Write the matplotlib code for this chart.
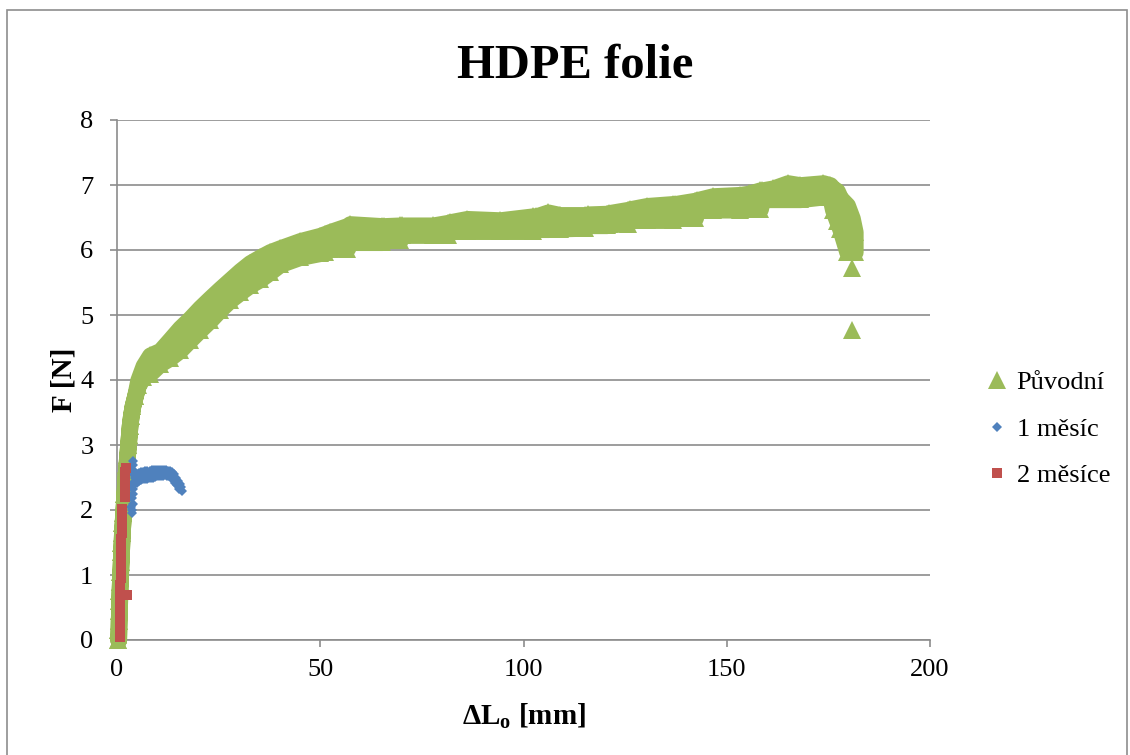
import matplotlib
matplotlib.use("Agg")
import matplotlib.pyplot as plt
from matplotlib.patches import Rectangle
from matplotlib.lines import Line2D

plt.rcParams['font.family'] = ['Liberation Serif', 'DejaVu Serif']
plt.rcParams['mathtext.fontset'] = 'custom'
plt.rcParams['mathtext.rm'] = 'Liberation Serif'
plt.rcParams['mathtext.bf'] = 'Liberation Serif:bold'

GREEN = '#9BBB59'
BLUE = '#4F81BD'
RED = '#C0504D'
GRID = '#8C8C8C'

title = 'HDPE folie'
series_names = ['Původní', '1 měsíc', '2 měsíce']
x_ticks = [0, 50, 100, 150, 200]
y_ticks = [0, 1, 2, 3, 4, 5, 6, 7, 8]

# Původní: elongation [mm] with lower / upper force envelope [N]
orig_x = [0.3, 0.35, 0.4, 0.5, 0.55, 0.6, 0.7, 0.8, 0.9, 1.0, 1.1, 1.2, 1.35,
          1.5, 1.65, 1.8, 1.95, 2.1, 2.3, 2.5, 2.7, 2.9, 3.1, 3.4, 3.8, 4.4,
          5.2, 6.5, 8.1, 10.6, 13.0, 15.5, 18.0, 20.4, 22.9, 25.3, 27.8, 30.3,
          32.7, 35.2, 37.6, 40.1, 45.0, 49.9, 51.2, 52.4, 56.6, 57.3, 65.2,
          65.7, 69.6, 70.1, 77.7, 81.4, 81.9, 86.1, 94.2, 102.3, 103.1, 106.0,
          109.0, 115.1, 115.9, 120.5, 121.0, 125.7, 126.2, 130.4, 136.8, 137.3,
          142.2, 142.7, 146.6, 153.3, 155.5, 158.2, 158.7, 161.4, 165.0, 168.0,
          173.7, 175.4, 176.1, 177.1, 177.9, 179.6, 180.8, 181.5]
orig_lo = [0.0, 0.15, 0.3, 0.45, 0.6, 0.75, 0.9, 1.05, 1.2, 1.35, 1.5, 1.65, 1.8,
           1.95, 2.1, 2.25, 2.4, 2.55, 2.7, 2.85, 3.0, 3.15, 3.3, 3.45, 3.6, 3.75,
           3.92, 4.05, 4.10, 4.25, 4.34, 4.46, 4.62, 4.77, 4.92, 5.08, 5.23, 5.35,
           5.46, 5.55, 5.66, 5.78, 5.89, 5.95, 5.97, 6.02, 6.02, 6.12, 6.12,
           6.15, 6.15, 6.23, 6.23, 6.23, 6.29, 6.29, 6.29, 6.29, 6.32, 6.32,
           6.33, 6.34, 6.38, 6.38, 6.40, 6.40, 6.46, 6.46, 6.46, 6.49,
           6.49, 6.62, 6.62, 6.62, 6.63, 6.63, 6.78, 6.78, 6.78, 6.78,
           6.82, 6.82, 6.62, 6.45, 6.32, 5.97, 5.97, 5.97]
orig_hi = [0.0, 0.15, 0.3, 0.45, 0.6, 0.75, 0.9, 1.05, 1.2, 1.35, 1.5, 1.65, 1.8,
           1.95, 2.1, 2.25, 2.4, 2.55, 2.7, 2.85, 3.0, 3.15, 3.3, 3.45, 3.6, 3.75,
           4.0, 4.22, 4.38, 4.45, 4.62, 4.80, 4.95, 5.11, 5.26, 5.40, 5.54, 5.68,
           5.80, 5.89, 5.97, 6.03, 6.14, 6.22, 6.25, 6.28, 6.37, 6.40, 6.37,
           6.37, 6.38, 6.38, 6.38, 6.42, 6.43, 6.48, 6.46, 6.52, 6.52, 6.58,
           6.54, 6.54, 6.55, 6.56, 6.57, 6.62, 6.63, 6.68, 6.71, 6.71,
           6.76, 6.77, 6.83, 6.85, 6.87, 6.92, 6.92, 6.95, 7.03, 7.00,
           7.03, 7.00, 6.95, 6.91, 6.80, 6.69, 6.49, 6.28]
orig_tail_x = [180.8, 180.8]
orig_tail_y = [5.72, 4.77]

# 1 měsíc
m1_x = [3.4, 3.6, 3.8, 3.9, 3.9, 3.8, 3.9, 4.0, 3.9, 4.0, 3.9, 3.7,
        4.5, 5.0, 5.5, 6.0, 6.5, 7.0, 7.5, 8.0, 8.5, 9.0, 9.5, 10.0, 10.5,
        11.0, 11.5, 12.0, 12.5, 13.0, 13.5, 14.0, 14.5, 15.0, 15.4, 15.7, 16.0,
        4.3, 4.8, 5.3, 5.8, 6.3, 6.8, 7.3, 7.8, 8.3, 8.8, 9.3, 9.8, 10.3,
        10.8, 11.3, 11.8, 12.3, 12.8, 13.3, 13.8, 14.3, 14.8, 15.2]
m1_y = [2.05, 2.0, 1.95, 2.1, 2.25, 2.4, 2.55, 2.7, 2.75, 2.62, 2.33, 2.18,
        2.5, 2.55, 2.57, 2.58, 2.58, 2.6, 2.6, 2.6, 2.61, 2.62, 2.62, 2.62, 2.62,
        2.62, 2.62, 2.62, 2.6, 2.6, 2.58, 2.55, 2.5, 2.45, 2.4, 2.35, 2.3,
        2.4, 2.42, 2.44, 2.46, 2.47, 2.48, 2.48, 2.5, 2.5, 2.5, 2.51, 2.52, 2.52,
        2.53, 2.53, 2.54, 2.53, 2.52, 2.5, 2.47, 2.42, 2.38, 2.33]

# 2 měsíce
m2_x = [0.7, 0.71, 0.72, 0.74, 0.76, 0.78, 0.8, 0.83, 0.86, 0.89, 0.92, 0.95,
        0.98, 1.01, 1.04, 1.08, 1.12, 1.16, 1.2, 1.25, 1.3,
        1.85, 1.9, 1.95, 2.0, 2.05, 2.1, 2.4]
m2_y = [0.05, 0.15, 0.25, 0.35, 0.45, 0.55, 0.65, 0.75, 0.85, 0.95, 1.05, 1.15,
        1.25, 1.35, 1.45, 1.55, 1.65, 1.75, 1.85, 1.95, 2.02,
        2.2, 2.3, 2.4, 2.5, 2.58, 2.65, 0.69]

W, H = 1130, 755
fig = plt.figure(figsize=(W / 100, H / 100), dpi=100)
ax = fig.add_axes([117 / W, 1 - 640 / H, (930 - 117) / W, (640 - 120) / H])

# chart frame
fig.patches.append(Rectangle((7 / W, -0.01), (1127 - 7) / W, 1.01 - 10 / H,
                             transform=fig.transFigure, fill=False,
                             edgecolor='#8E8E8E', linewidth=1.2))

ax.set_xlim(0, 200)
ax.set_ylim(0, 8)
ax.set_xticks(x_ticks)
ax.set_yticks(y_ticks)
ax.yaxis.grid(True, color=GRID, linewidth=1.2)
ax.set_axisbelow(True)
for s in ['top', 'right']:
    ax.spines[s].set_visible(False)
for s in ['left', 'bottom']:
    ax.spines[s].set_color(GRID)
    ax.spines[s].set_linewidth(1.2)
    ax.spines[s].set_zorder(1)
ax.tick_params(axis='both', direction='out', length=5, width=1.2, color=GRID,
               labelsize=19)
ax.tick_params(axis='y', pad=12)
ax.tick_params(axis='x', pad=9)

# dense marker cloud of the original film: band between the envelopes,
# widened by the marker size
tri_ms = 13
ax.fill_between(orig_x, orig_lo, orig_hi, facecolor=GREEN,
                edgecolor=GREEN, linewidth=12, joinstyle='round',
                zorder=3, clip_on=False)
ax.plot(orig_x, orig_lo, linestyle='none', marker='^', ms=tri_ms, color=GREEN,
        markeredgewidth=0, zorder=3, clip_on=False)
ax.plot(orig_x, orig_hi, linestyle='none', marker='^', ms=tri_ms, color=GREEN,
        markeredgewidth=0, zorder=3, clip_on=False)
ax.plot(orig_tail_x, orig_tail_y, linestyle='none', marker='^', ms=tri_ms,
        color=GREEN, markeredgewidth=0, zorder=3, clip_on=False)
ax.plot(m1_x, m1_y, linestyle='none', marker='D', ms=5.5, color=BLUE,
        markeredgewidth=0, zorder=4, clip_on=False)
ax.plot(m2_x, m2_y, linestyle='none', marker='s', ms=7.5, color=RED,
        markeredgewidth=0, zorder=5, clip_on=False)

ax.set_xlabel(r'$\mathbf{\Delta L_{o}}$ [mm]', fontsize=21, fontweight='bold',
              labelpad=15)
ax.set_ylabel('F [N]', fontsize=21, fontweight='bold', labelpad=2)

fig.text(575 / W, 1 - 78 / H, title, fontsize=35, fontweight='bold',
         ha='center', va='baseline')

handles = [
    Line2D([], [], linestyle='none', marker='^', ms=13, color=GREEN, markeredgewidth=0),
    Line2D([], [], linestyle='none', marker='D', ms=5, color=BLUE, markeredgewidth=0),
    Line2D([], [], linestyle='none', marker='s', ms=7.5, color=RED, markeredgewidth=0),
]
fig.legend(handles, series_names, loc='center left',
           bbox_to_anchor=(985 / W, 1 - 429 / H), frameon=False, fontsize=19,
           handlelength=0.9, handletextpad=0.3, labelspacing=0.88,
           borderaxespad=0, borderpad=0)

fig.savefig('out.png', dpi=100)
